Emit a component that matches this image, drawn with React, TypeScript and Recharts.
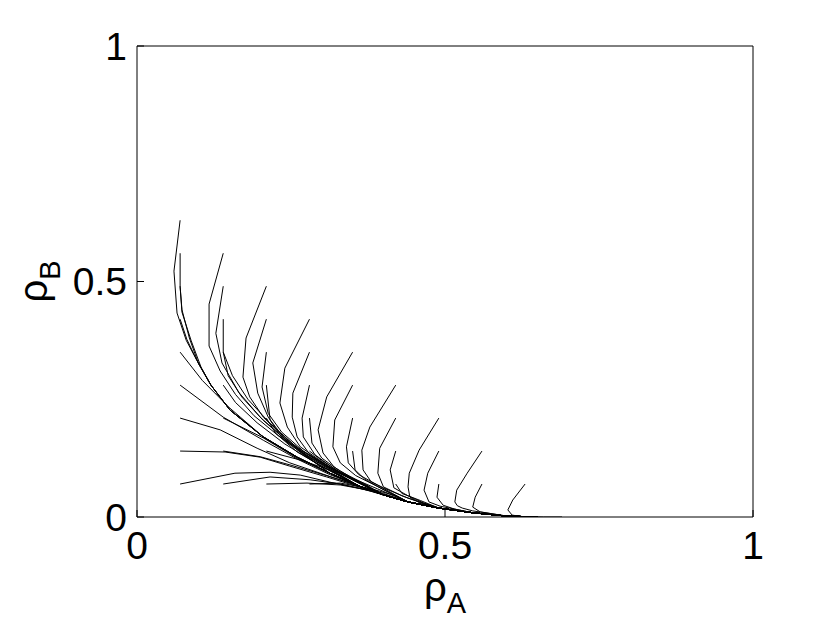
import React from 'react';
import { LineChart, Line, XAxis, YAxis } from 'recharts';

// Tick values / labels
const TICKS = [0, 0.5, 1];
const TICK_LABELS = ['0', '0.5', '1'];

// Common attracting curve that all trajectories merge into
const MANIFOLD_X = [0.060, 0.065, 0.080, 0.097, 0.120, 0.151, 0.205, 0.260, 0.313, 0.360, 0.400, 0.440, 0.490, 0.545, 0.600, 0.650];
const MANIFOLD_Y = [0.522, 0.433, 0.375, 0.333, 0.280, 0.227, 0.170, 0.127, 0.093, 0.066, 0.047, 0.032, 0.019, 0.009, 0.002, 0.000];

// Individual trajectory heads (start point and kinks) and index where they join the curve above
const TRAJ_HEADS: number[][][] = [
  // start x = 0.07
  [[0.07, 0.63]],
  [[0.07, 0.56], [0.07, 0.488], [0.073, 0.44], [0.085, 0.38], [0.1, 0.325]],
  [[0.07, 0.49], [0.073, 0.435], [0.088, 0.374], [0.104, 0.318]],
  [[0.07, 0.42], [0.081, 0.377]],
  [[0.07, 0.35], [0.106, 0.29], [0.15, 0.232]],
  [[0.07, 0.28], [0.14, 0.212], [0.205, 0.163], [0.26, 0.123], [0.313, 0.09]],
  [[0.07, 0.21], [0.135, 0.185], [0.195, 0.146], [0.248, 0.115], [0.313, 0.086]],
  [[0.07, 0.14], [0.143, 0.138], [0.2, 0.127], [0.248, 0.108], [0.308, 0.085], [0.36, 0.064]],
  [[0.07, 0.07], [0.159, 0.093], [0.216, 0.095], [0.265, 0.089], [0.313, 0.074], [0.362, 0.061]],
  // start x = 0.14
  [[0.14, 0.56], [0.117, 0.452], [0.117, 0.363], [0.135, 0.31], [0.16, 0.26], [0.19, 0.215], [0.23, 0.172], [0.27, 0.133]],
  [[0.14, 0.49], [0.128, 0.39], [0.138, 0.327], [0.165, 0.265], [0.2, 0.212], [0.24, 0.165], [0.28, 0.125]],
  [[0.14, 0.42], [0.14, 0.35], [0.155, 0.3], [0.18, 0.25], [0.215, 0.2], [0.255, 0.153], [0.3, 0.113]],
  [[0.14, 0.35], [0.148, 0.3], [0.17, 0.255], [0.205, 0.205], [0.245, 0.16], [0.29, 0.118]],
  [[0.14, 0.28], [0.16, 0.243], [0.195, 0.2], [0.24, 0.155], [0.29, 0.115]],
  [[0.14, 0.21], [0.205, 0.168], [0.26, 0.125]],
  [[0.14, 0.14], [0.2, 0.128], [0.25, 0.11], [0.31, 0.087]],
  [[0.14, 0.07], [0.216, 0.085], [0.281, 0.079], [0.33, 0.07], [0.38, 0.055]],
  // start x = 0.21
  [[0.21, 0.49], [0.177, 0.38], [0.172, 0.297], [0.183, 0.255], [0.205, 0.212], [0.232, 0.178], [0.265, 0.142], [0.313, 0.106]],
  [[0.21, 0.42], [0.188, 0.327], [0.196, 0.263], [0.213, 0.212], [0.237, 0.17], [0.27, 0.135], [0.32, 0.1]],
  [[0.21, 0.35], [0.203, 0.276], [0.213, 0.22], [0.235, 0.18], [0.27, 0.14], [0.32, 0.1]],
  [[0.21, 0.28], [0.216, 0.206], [0.235, 0.168], [0.27, 0.133], [0.32, 0.098]],
  [[0.21, 0.21], [0.225, 0.178], [0.26, 0.138], [0.31, 0.1]],
  [[0.21, 0.14], [0.265, 0.121], [0.313, 0.1]],
  [[0.21, 0.07], [0.276, 0.072], [0.33, 0.068], [0.38, 0.056]],
  // start x = 0.28
  [[0.28, 0.42], [0.24, 0.316], [0.232, 0.242], [0.244, 0.191], [0.265, 0.149], [0.313, 0.106], [0.345, 0.083]],
  [[0.28, 0.35], [0.253, 0.263], [0.252, 0.212], [0.26, 0.17], [0.281, 0.132], [0.32, 0.1], [0.36, 0.072]],
  [[0.28, 0.28], [0.268, 0.21], [0.27, 0.17], [0.289, 0.132], [0.325, 0.098], [0.365, 0.071]],
  [[0.28, 0.21], [0.284, 0.157], [0.3, 0.125], [0.33, 0.097], [0.37, 0.07]],
  [[0.28, 0.14], [0.3, 0.12], [0.33, 0.095], [0.37, 0.068]],
  [[0.28, 0.07], [0.33, 0.072], [0.38, 0.06], [0.42, 0.045]],
  // start x = 0.35
  [[0.35, 0.35], [0.308, 0.255], [0.294, 0.185], [0.302, 0.136], [0.32, 0.106], [0.35, 0.082], [0.39, 0.06]],
  [[0.35, 0.28], [0.321, 0.206], [0.318, 0.149], [0.33, 0.115], [0.355, 0.088], [0.39, 0.065]],
  [[0.35, 0.21], [0.34, 0.149], [0.343, 0.115], [0.36, 0.09], [0.39, 0.068]],
  [[0.35, 0.14], [0.354, 0.1], [0.37, 0.08], [0.4, 0.058]],
  [[0.35, 0.07], [0.4, 0.05]],
  // start x = 0.42
  [[0.42, 0.28], [0.378, 0.191], [0.365, 0.142], [0.367, 0.1], [0.38, 0.075], [0.4, 0.062], [0.44, 0.04]],
  [[0.42, 0.21], [0.394, 0.146], [0.391, 0.093], [0.4, 0.064], [0.43, 0.045], [0.46, 0.031]],
  [[0.42, 0.14], [0.411, 0.1], [0.417, 0.062], [0.44, 0.045], [0.465, 0.03]],
  [[0.42, 0.07], [0.43, 0.05], [0.46, 0.035]],
  // start x = 0.49
  [[0.49, 0.21], [0.458, 0.142], [0.442, 0.093], [0.44, 0.064], [0.443, 0.042], [0.459, 0.03]],
  [[0.49, 0.14], [0.472, 0.093], [0.466, 0.057], [0.474, 0.032], [0.492, 0.023]],
  [[0.49, 0.07], [0.487, 0.042], [0.497, 0.025], [0.515, 0.017]],
  // start x = 0.56
  [[0.56, 0.14], [0.536, 0.093], [0.519, 0.057], [0.516, 0.032], [0.52, 0.024], [0.528, 0.019], [0.545, 0.013]],
  [[0.56, 0.07], [0.549, 0.042], [0.545, 0.021], [0.557, 0.011]],
  // start x = 0.63
  [[0.63, 0.07], [0.61, 0.036], [0.602, 0.015], [0.609, 0.004], [0.625, 0.001], [0.66, 0.0], [0.69, 0.0]],
];
const TRAJ_JOIN = [
  0, 4, 4, 3, 6, 9, 9, 10, 10,
  8, 8, 9, 9, 9, 8, 9, 11,
  10, 10, 10, 10, 9, 9, 11,
  10, 10, 10, 10, 10, 11,
  11, 11, 11, 11, 11,
  12, 12, 12, 12,
  12, 13, 13,
  14, 14,
  -1,
];

type Pt = { x: number; y: number };
const SERIES: Pt[][] = TRAJ_HEADS.map((head, i) => {
  const pts: Pt[] = head.map(([x, y]) => ({ x, y }));
  const j = TRAJ_JOIN[i];
  if (j >= 0) {
    for (let k = j; k < MANIFOLD_X.length; k++) pts.push({ x: MANIFOLD_X[k], y: MANIFOLD_Y[k] });
  }
  return pts;
});

const FONT = "'Liberation Sans', Arial, Helvetica, sans-serif";
const tickStyle = { fill: '#000', fontSize: 39, fontFamily: FONT };
const fmt = (v: number) => TICK_LABELS[TICKS.indexOf(v)] ?? String(v);

const XLabel = (props: any) => {
  const vb = props.viewBox || { x: 0, y: 0, width: 0 };
  return (
    <text x={vb.x + vb.width / 2} y={vb.y + 84} textAnchor="middle" fontFamily={FONT} fill="#000" fontSize={40}>
      <tspan>ρ</tspan>
      <tspan fontSize={29} dy={12}>A</tspan>
    </text>
  );
};

const YLabel = (props: any) => {
  const vb = props.viewBox || { x: 0, y: 0, height: 0 };
  const cx = vb.x - 30;
  const cy = vb.y + vb.height / 2;
  return (
    <text x={cx} y={cy} transform={`rotate(-90 ${cx} ${cy})`} textAnchor="middle" fontFamily={FONT} fill="#000" fontSize={40}>
      <tspan>ρ</tspan>
      <tspan fontSize={29} dy={13}>B</tspan>
    </text>
  );
};

export default function App() {
  return (
    <div style={{ position: 'absolute', left: 0, top: 0, width: 830, height: 624, background: '#fff' }}>
      <LineChart width={830} height={624} margin={{ top: 36, right: 67, bottom: 67, left: 77 }}>
        <XAxis
          xAxisId={0}
          type="number"
          dataKey="x"
          domain={[0, 1]}
          ticks={TICKS}
          allowDataOverflow
          height={40}
          tickFormatter={fmt}
          tick={tickStyle}
          tickSize={-7}
          tickMargin={21}
          axisLine={{ stroke: '#000', strokeWidth: 1 }}
          tickLine={{ stroke: '#000', strokeWidth: 1 }}
          label={{ content: XLabel }}
        />
        <XAxis
          xAxisId="top"
          orientation="top"
          type="number"
          dataKey="x"
          domain={[0, 1]}
          ticks={TICKS}
          allowDataOverflow
          height={10}
          tick={false}
          tickSize={-7}
          axisLine={{ stroke: '#000', strokeWidth: 1 }}
          tickLine={{ stroke: '#000', strokeWidth: 1 }}
        />
        <YAxis
          yAxisId={0}
          type="number"
          dataKey="y"
          domain={[0, 1]}
          ticks={TICKS}
          allowDataOverflow
          width={60}
          tickFormatter={fmt}
          tick={tickStyle}
          tickSize={-7}
          tickMargin={17}
          axisLine={{ stroke: '#000', strokeWidth: 1 }}
          tickLine={{ stroke: '#000', strokeWidth: 1 }}
          label={{ content: YLabel }}
        />
        <YAxis
          yAxisId="right"
          orientation="right"
          type="number"
          dataKey="y"
          domain={[0, 1]}
          ticks={TICKS}
          allowDataOverflow
          width={10}
          tick={false}
          tickSize={-7}
          axisLine={{ stroke: '#000', strokeWidth: 1 }}
          tickLine={{ stroke: '#000', strokeWidth: 1 }}
        />
        {SERIES.map((pts, i) => (
          <Line
            key={i}
            xAxisId={0}
            yAxisId={0}
            data={pts}
            dataKey="y"
            type="linear"
            stroke="#000"
            strokeWidth={1}
            dot={false}
            activeDot={false}
            isAnimationActive={false}
            legendType="none"
          />
        ))}
      </LineChart>
    </div>
  );
}
